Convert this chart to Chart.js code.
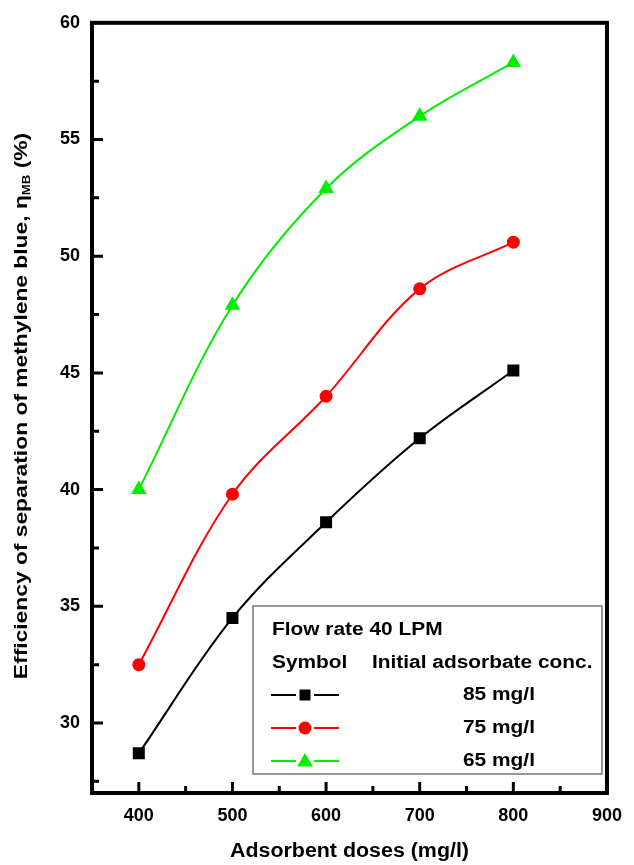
<!DOCTYPE html>
<html>
<head>
<meta charset="utf-8">
<script src="https://cdn.jsdelivr.net/npm/chart.js@4/dist/chart.umd.min.js"></script>
<style>
html,body{margin:0;padding:0;background:#fff;}
#wrap{width:634px;height:865px;position:relative;}
</style>
</head>
<body>
<div id="wrap"><canvas id="c" width="634" height="865"></canvas></div>
<script>
// ---- data ----
const doses = [400, 500, 600, 700, 800];
const eff85 = [28.7, 34.5, 38.6, 42.2, 45.1];
const eff75 = [32.5, 39.8, 44.0, 48.6, 50.6];
const eff65 = [40.0, 47.9, 52.9, 56.0, 58.3];
const seriesLabels = ['85 mg/l', '75 mg/l', '65 mg/l'];
const xTicks = [400, 500, 600, 700, 800, 900];
const xMinorTicks = [450, 550, 650, 750, 850];
const yTicks = [30, 35, 40, 45, 50, 55, 60];
const yMinorTicks = [27.5, 32.5, 37.5, 42.5, 47.5, 52.5, 57.5];
const xTitle = 'Adsorbent doses (mg/l)';
const yTitleMain = 'Efficiency of separation of methylene blue, \u03B7';
const yTitleSub = 'MB';
const yTitleEnd = ' (%)';
const legendTitle = 'Flow rate 40 LPM';
const legendHeadA = 'Symbol';
const legendHeadB = 'Initial adsorbate conc.';

const FONT = '"Liberation Sans", Arial, Helvetica, sans-serif';

function mkSet(data, color, style, radius, label) {
  return {
    label: label,
    data: doses.map((d, i) => ({x: d, y: data[i]})),
    borderColor: color,
    backgroundColor: color,
    borderWidth: 2,
    pointStyle: style,
    pointRadius: radius,
    pointHoverRadius: radius,
    pointBorderWidth: 0,
    tension: 0.35,
    fill: false
  };
}

// draw text horizontally stretched by sx (in the current frame)
function sText(ctx, text, x, y, sx, align) {
  ctx.save();
  ctx.translate(x, y);
  ctx.scale(sx, 1);
  ctx.textAlign = align || 'left';
  ctx.fillText(text, 0, 0);
  ctx.restore();
}

const drawPlugin = {
  id: 'decor',
  afterDraw(chart) {
    const ctx = chart.ctx;
    const a = chart.chartArea;
    const xs = chart.scales.x, ys = chart.scales.y;
    ctx.save();
    // frame
    ctx.strokeStyle = '#000';
    ctx.lineWidth = 4;
    ctx.strokeRect(a.left, a.top, a.right - a.left, a.bottom - a.top);
    // ticks (inward)
    ctx.lineWidth = 3;
    ctx.beginPath();
    xTicks.forEach(v => { const px = xs.getPixelForValue(v); ctx.moveTo(px, a.bottom); ctx.lineTo(px, a.bottom - 11); });
    xMinorTicks.forEach(v => { const px = xs.getPixelForValue(v); ctx.moveTo(px, a.bottom); ctx.lineTo(px, a.bottom - 7); });
    yTicks.forEach(v => { const py = ys.getPixelForValue(v); ctx.moveTo(a.left, py); ctx.lineTo(a.left + 11, py); });
    yMinorTicks.forEach(v => { const py = ys.getPixelForValue(v); ctx.moveTo(a.left, py); ctx.lineTo(a.left + 7, py); });
    ctx.stroke();

    // x title
    ctx.fillStyle = '#000';
    ctx.font = 'bold 20px ' + FONT;
    ctx.textBaseline = 'middle';
    sText(ctx, xTitle, (a.left + a.right) / 2, 851, 1.07, 'center');

    // y title with subscript (stretched along its length)
    const SX = 1.2;
    ctx.save();
    ctx.translate(22, 406);
    ctx.rotate(-Math.PI / 2);
    ctx.scale(SX, 1);
    ctx.textAlign = 'left';
    ctx.textBaseline = 'middle';
    ctx.font = 'bold 19px ' + FONT;
    const w1 = ctx.measureText(yTitleMain).width;
    const w3 = ctx.measureText(yTitleEnd).width;
    ctx.font = 'bold 11px ' + FONT;
    const w2 = ctx.measureText(yTitleSub).width;
    const total = w1 + w2 + w3;
    const x0 = -total / 2;
    ctx.font = 'bold 19px ' + FONT;
    ctx.fillText(yTitleMain, x0, 0);
    ctx.font = 'bold 11px ' + FONT;
    ctx.fillText(yTitleSub, x0 + w1, 5);
    ctx.font = 'bold 19px ' + FONT;
    ctx.fillText(yTitleEnd, x0 + w1 + w2, 0);
    ctx.restore();

    // legend box
    const bx = 253, by = 606, bw = 349, bh = 168;
    ctx.fillStyle = '#fff';
    ctx.fillRect(bx, by, bw, bh);
    ctx.strokeStyle = '#777';
    ctx.lineWidth = 1.5;
    ctx.strokeRect(bx, by, bw, bh);
    ctx.fillStyle = '#000';
    ctx.font = 'bold 18px ' + FONT;
    ctx.textBaseline = 'middle';
    const LS = 1.16;
    sText(ctx, legendTitle, 272, 630, LS, 'left');
    sText(ctx, legendHeadA, 272, 663, LS, 'left');
    sText(ctx, legendHeadB, 372, 663, LS, 'left');
    const rows = [695, 728, 761];
    chart.data.datasets.forEach((ds, i) => {
      const y = rows[i];
      ctx.strokeStyle = ds.borderColor;
      ctx.fillStyle = ds.backgroundColor;
      ctx.lineWidth = 2;
      ctx.beginPath();
      ctx.moveTo(271, y); ctx.lineTo(296, y);
      ctx.moveTo(314, y); ctx.lineTo(339, y);
      ctx.stroke();
      const cx = 305;
      ctx.beginPath();
      if (ds.pointStyle === 'rect') {
        ctx.rect(cx - 5.5, y - 5.5, 11, 11);
      } else if (ds.pointStyle === 'circle') {
        ctx.arc(cx, y, 6.5, 0, Math.PI * 2);
      } else {
        ctx.moveTo(cx, y - 8); ctx.lineTo(cx + 7.8, y + 5.5); ctx.lineTo(cx - 7.8, y + 5.5); ctx.closePath();
      }
      ctx.fill();
      ctx.fillStyle = '#000';
      sText(ctx, seriesLabels[i], 463, y, LS, 'left');
    });
    ctx.restore();
  }
};

new Chart(document.getElementById('c'), {
  type: 'line',
  data: {
    datasets: [
      mkSet(eff85, '#000000', 'rect', 8.5, seriesLabels[0]),
      mkSet(eff75, '#ff0000', 'circle', 6.5, seriesLabels[1]),
      mkSet(eff65, '#00ee00', 'triangle', 9, seriesLabels[2])
    ]
  },
  options: {
    responsive: false,
    animation: false,
    devicePixelRatio: 1,
    layout: {padding: {left: 0, right: 27, top: 19, bottom: 0}},
    plugins: {legend: {display: false}, tooltip: {enabled: false}},
    scales: {
      x: {
        type: 'linear',
        min: 350, max: 900,
        afterBuildTicks(s) { s.ticks = xTicks.map(v => ({value: v})); },
        afterFit(s) { s.height = 72; },
        grid: {display: false, drawTicks: false},
        border: {display: false},
        ticks: {color: '#000', padding: 12, maxRotation: 0, font: {family: FONT, size: 18, weight: 'bold'}}
      },
      y: {
        type: 'linear',
        min: 27, max: 60,
        afterBuildTicks(s) { s.ticks = yTicks.map(v => ({value: v})); },
        afterFit(s) { s.width = 92; },
        grid: {display: false, drawTicks: false},
        border: {display: false},
        ticks: {color: '#000', padding: 12, font: {family: FONT, size: 18, weight: 'bold'}}
      }
    }
  },
  plugins: [drawPlugin]
});
</script>
</body>
</html>
